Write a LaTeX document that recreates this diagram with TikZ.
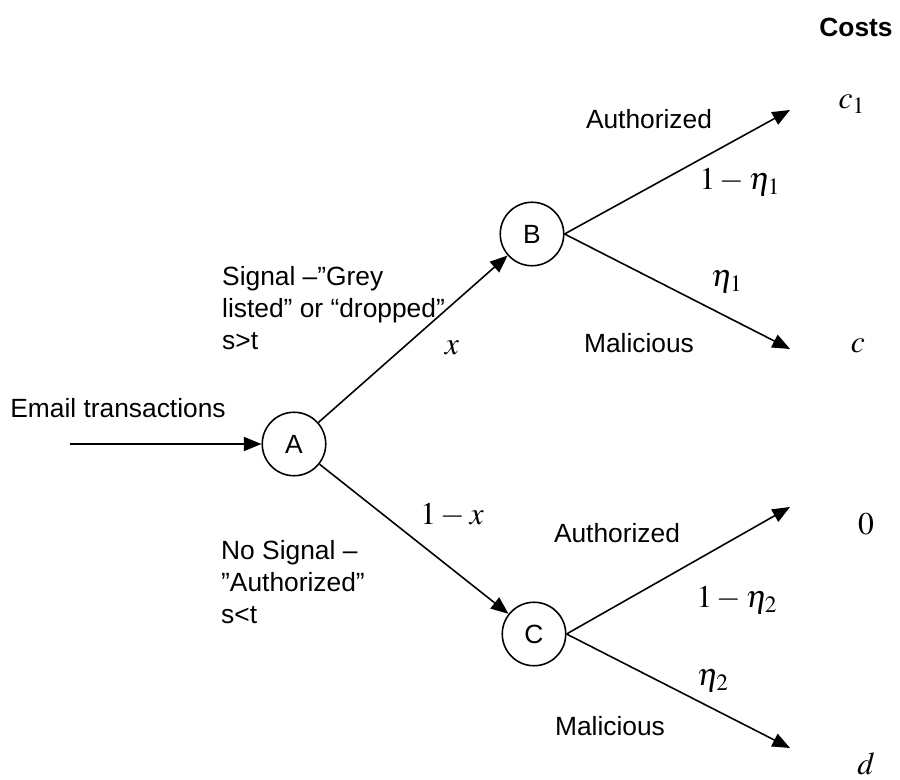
\documentclass[tikz,border=0pt]{standalone}
\usepackage{mathptmx}
\usepackage[no-math]{fontspec}
\setmainfont{Liberation Sans}
\usetikzlibrary{arrows.meta}
\tikzset{%
  state/.style={circle, draw, line width=0.9pt, minimum size=1.27cm, inner sep=0pt},
  branch/.style={line width=0.9pt, -{Triangle[length=10pt, width=8pt]}},
  lbl/.style={font=\fontsize{15}{18}\selectfont, align=left},
  prob/.style={font=\fontsize{18}{20}\selectfont, inner sep=1pt},
}

\begin{document}
\begin{tikzpicture}[x=0.02cm, y=-0.02cm]
    \useasboundingbox (0,0) rectangle (900,780);

    % decision nodes
    \node[state, lbl] (A) at (294,444) {A};
    \node[state, lbl] (B) at (532,234) {B};
    \node[state, lbl] (C) at (534,634) {C};

    % free ends of the branches
    \coordinate (in) at (70,444);
    \coordinate (B1) at (790,110);
    \coordinate (B2) at (790,349);
    \coordinate (C1) at (790,507);
    \coordinate (C2) at (790,748);

    % branches
    \draw[branch] (in) -- (A);
    \draw[branch] (A) -- (B);
    \draw[branch] (A) -- (C);
    \draw[branch] (B.east) -- (B1);
    \draw[branch] (B.east) -- (B2);
    \draw[branch] (C.east) -- (C1);
    \draw[branch] (C.east) -- (C2);

    % texts
    \node[lbl] (email) at (118,408) {Email transactions};
    \node[lbl, anchor=west] (sig) at (216,308) {Signal –”Grey\\listed” or “dropped”\\s>t};
    \node[lbl, anchor=west] (nosig) at (215,582) {No Signal –\\”Authorized”\\s<t};
    \node[prob] (px) at (452,348) {$x$};
    \node[prob] (pnx) at (452,515) {$1-x$};

    \node[lbl] (auth1) at (649,119) {Authorized};
    \node[lbl] (mal1) at (639,343) {Malicious};
    \node[prob] (pa1) at (740,182) {$1-\eta_1$};
    \node[prob] (pm1) at (727,282) {$\eta_1$};

    \node[lbl] (auth2) at (617,533) {Authorized};
    \node[lbl] (mal2) at (610,726) {Malicious};
    \node[prob] (pa2) at (737,600) {$1-\eta_2$};
    \node[prob] (pm2) at (713,681) {$\eta_2$};

    % costs
    \node[lbl, font=\fontsize{15}{18}\selectfont\bfseries] (costs) at (856,27) {Costs};
    \node[prob] (k1) at (852,104) {$c_1$};
    \node[prob] (k2) at (858,346) {$c$};
    \node[prob] (k3) at (866,524) {$0$};
    \node[prob] (k4) at (866,764) {$d$};
\end{tikzpicture}
\end{document}
